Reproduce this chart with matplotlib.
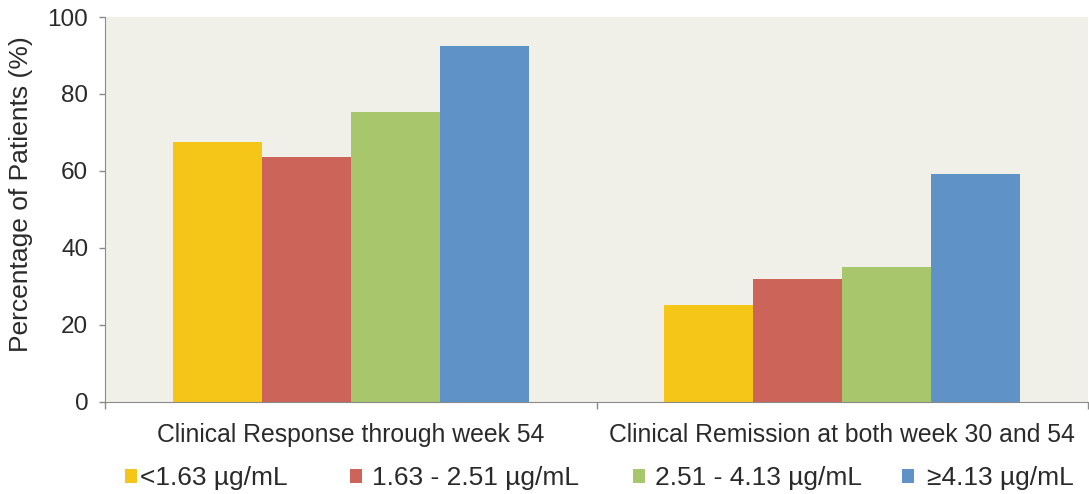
import matplotlib
matplotlib.use("Agg")
import matplotlib.pyplot as plt
import matplotlib.transforms as mtransforms
from matplotlib.patches import Patch

plt.rcParams['font.family'] = ['Liberation Sans', 'DejaVu Sans']

categories = ["Clinical Response through week 54", "Clinical Remission at both week 30 and 54"]
groups = ["<1.63 µg/mL", "1.63 - 2.51 µg/mL", "2.51 - 4.13 µg/mL", "≥4.13 µg/mL"]
low = [67.6, 25.1]
mid_low = [63.5, 31.8]
mid_high = [75.2, 35.1]
high = [92.5, 59.1]

colors = ["#f5c518", "#cc645a", "#a8c66b", "#5f93c8"]
text_col = "#2a2a2a"
W, H = 1089, 494

fig = plt.figure(figsize=(W / 100, H / 100), dpi=100)
ax = fig.add_axes([105 / W, 1 - 401.7 / H, 983 / W, 384.7 / H])
ax.set_facecolor("#f0f0e8")

width = 0.181
series = [low, mid_low, mid_high, high]
for i, vals in enumerate(series):
    xs = [k + 0.5 + (i - 1.5) * width for k in range(len(categories))]
    ax.bar(xs, vals, width=width, color=colors[i], edgecolor="none")

ax.set_xlim(0, 2)
ax.set_ylim(0, 100)
ax.set_yticks([0, 20, 40, 60, 80, 100])
ax.tick_params(axis="y", labelsize=17.5, colors="#8a8a8a", labelcolor=text_col,
               length=4, width=1, pad=8)
ax.set_xticks([0, 1, 2])
ax.set_xticklabels([])
ax.tick_params(axis="x", colors="#8a8a8a", length=5, width=1)

# category names sit under each group, in figure y
trans = mtransforms.blended_transform_factory(ax.transData, fig.transFigure)
for k, cat in enumerate(categories):
    ax.text(k + 0.5, 1 - 435 / H, cat, transform=trans,
            ha="center", va="center", fontsize=17.8, color=text_col)

for s in ["top", "right"]:
    ax.spines[s].set_visible(False)
ax.spines["left"].set_color("#8a8a8a")
ax.spines["bottom"].set_color("#8a8a8a")
ax.set_ylabel("Percentage of Patients (%)", fontsize=19, color=text_col)
ax.yaxis.set_label_coords((33 - 105) / 983, (401.7 - 194.5) / 384.7)

# legend entries are spaced unevenly in the original, so one per entry
leg_x = [125, 350, 633, 902]
leg_pad = [0.12, 0.4, 0.4, 0.5]
for i in range(len(groups)):
    lg = fig.legend([Patch(facecolor=colors[i], edgecolor="none")], [groups[i]],
                    loc="center left", bbox_to_anchor=(leg_x[i] / W, 1 - 478 / H),
                    frameon=False, fontsize=19, handlelength=0.45, handleheight=0.45,
                    handletextpad=leg_pad[i], borderpad=0, borderaxespad=0)
    for t in lg.get_texts():
        t.set_color(text_col)

fig.savefig("out.png", dpi=100, facecolor="white")
